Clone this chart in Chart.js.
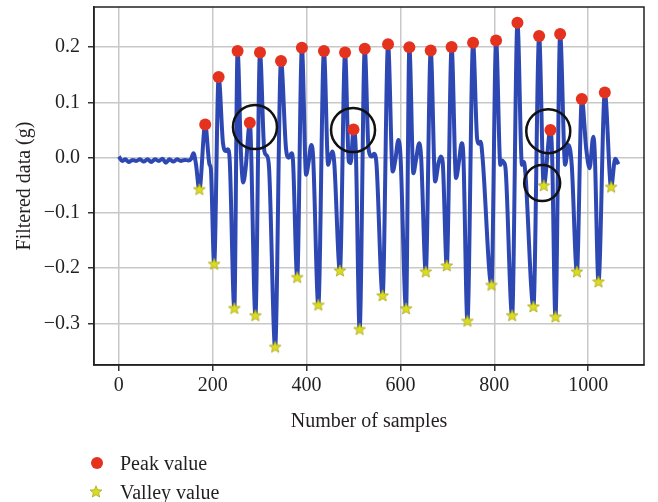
<!DOCTYPE html>
<html>
<head>
<meta charset="utf-8">
<script src="https://cdn.jsdelivr.net/npm/chart.js@4"></script>
<style>
html,body{margin:0;padding:0;background:#fff;}
#wrap{position:relative;width:658px;height:502px;overflow:hidden;}
#chart{position:absolute;left:0;top:0;}
.leg{position:absolute;left:89px;height:24px;line-height:24px;font-family:"Liberation Serif",serif;font-size:20px;color:#231f20;white-space:nowrap;}
.leg .mk{position:absolute;left:0;top:5px;width:14px;height:14px;}
.leg .dot{position:absolute;left:2px;top:6px;width:12px;height:12px;border-radius:50%;background:#e5321f;}
.leg span.t{position:absolute;left:31px;top:0;}
</style>
</head>
<body>
<div id="wrap">
<canvas id="chart" width="658" height="502"></canvas>
<div class="leg" style="top:451px;"><div class="dot"></div><span class="t">Peak value</span></div>
<div class="leg" style="top:480px;"><canvas class="mk" id="legStar" width="14" height="14"></canvas><span class="t">Valley value</span></div>
</div>
<script>
// ---- data ----
const sampleX = [0,7,14,21,29,37,45,53,61,69,77,85,93,100,108,116,124,132,140,148,154,159,164,
  171.5,184,193,196,203,212.6,222,228,232,236,246,253,260,265,270,279,291,300.7,310,315,320,333,345.5,
  356,362,368,371,380,390,399,404,410,414,425,437,446,450,455,459,471,482,490,494,500,505,513,524,
  532,539,544,549,562,573.6,583.5,589,595.6,600,612,619,627.6,633,640,644,654,664.5,674,681,686,690,
  698.7,709,718.5,725,730.6,734,742.7,754.8,763.3,767,771,775,794,803.8,813,817,820,824,838,849.3,
  859,863,866,883.4,895.5,905.4,919.6,923,930.3,940.3,951,958,965,976,986.5,996,1003,1011,1014,1022,
  1035.5,1049,1057.6,1064.7];
const filteredY = [0.002,-0.006,-0.003,-0.008,-0.004,-0.006,-0.003,-0.007,-0.003,-0.008,-0.003,-0.006,-0.002,-0.009,-0.003,-0.007,-0.003,-0.006,-0.004,-0.005,-0.002,0.008,-0.010,
  -0.058,0.060,-0.012,-0.020,-0.193,0.146,0.025,0.012,0.015,-0.002,-0.273,0.193,0.010,-0.045,-0.020,0.063,-0.286,0.190,0.012,0.004,-0.018,-0.343,0.175,
  0.018,0.000,0.008,-0.005,-0.217,0.199,-0.031,-0.010,0.023,0.000,-0.267,0.193,-0.013,0.000,0.011,-0.010,-0.205,0.190,-0.007,-0.010,0.051,0.010,-0.311,0.197,
  0.016,0.002,0.007,-0.012,-0.250,0.205,-0.025,-0.005,0.032,0.005,-0.2735,0.1995,-0.028,-0.005,0.026,0.002,-0.207,0.194,-0.043,-0.010,0.002,-0.008,
  -0.196,0.200,-0.037,-0.005,0.026,0.005,-0.296,0.208,0.035,0.025,0.029,0.000,-0.231,0.212,-0.013,-0.005,-0.008,-0.020,-0.286,0.244,
  -0.013,-0.008,-0.025,-0.270,0.220,-0.051,0.050,0.010,-0.2885,0.2235,-0.013,0.023,-0.013,-0.207,0.106,0.015,-0.019,0.038,0.010,-0.225,
  0.118,-0.0536,-0.002,-0.012];

const peakX = [184,212.6,253,279,300.7,345.5,390,437,482,500,524,573.6,619,664.5,709,754.8,803.8,849.3,895.5,919.6,940.3,986.5,1035.5];
const peakY = [0.060,0.146,0.193,0.063,0.190,0.175,0.199,0.193,0.190,0.051,0.197,0.205,0.1995,0.194,0.200,0.208,0.212,0.244,0.220,0.050,0.2235,0.106,0.118];

const valleyX = [171.5,203,246,291,333,380,425,471,513,562,612,654,698.7,742.7,794,838,883.4,905.4,930.3,976,1022,1049];
const valleyY = [-0.058,-0.193,-0.273,-0.286,-0.343,-0.217,-0.267,-0.205,-0.311,-0.250,-0.2735,-0.207,-0.196,-0.296,-0.231,-0.286,-0.270,-0.051,-0.2885,-0.207,-0.225,-0.0536];

const ringX = [290,499,915,902];
const ringY = [0.0555,0.050,0.048,-0.046];

const xTicks = [0,200,400,600,800,1000];
const yTicks = [-0.3,-0.2,-0.1,0.0,0.1,0.2];

const xTitle = 'Number of samples';
const yTitle = 'Filtered data (g)';

// ---- helpers ----
const zip = (xs, ys) => xs.map((x, i) => ({x: x, y: ys[i]}));

function drawStar(cv) {
  const c = cv.getContext('2d');
  const cx = cv.width / 2, cy = cv.height / 2, R = 6.2, r = 2.7;
  c.clearRect(0, 0, cv.width, cv.height);
  c.beginPath();
  for (let i = 0; i < 10; i++) {
    const a = -Math.PI / 2 + i * Math.PI / 5;
    const rr = i % 2 === 0 ? R : r;
    const px = cx + rr * Math.cos(a), py = cy + rr * Math.sin(a);
    if (i === 0) c.moveTo(px, py); else c.lineTo(px, py);
  }
  c.closePath();
  c.fillStyle = '#dcdc1e';
  c.fill();
  c.lineWidth = 0.8;
  c.strokeStyle = '#a9a61a';
  c.stroke();
}
const starImg = document.createElement('canvas');
starImg.width = 14; starImg.height = 14;
drawStar(starImg);
drawStar(document.getElementById('legStar'));

const FONT = {family: '"Liberation Serif", serif', size: 20};
const TXT = '#231f20';

const frame = {
  id: 'frame',
  afterDraw(chart) {
    const a = chart.chartArea, c = chart.ctx;
    c.save();
    c.strokeStyle = '#222';
    c.lineWidth = 1.5;
    c.strokeRect(a.left, a.top, a.right - a.left, a.bottom - a.top);
    c.restore();
  }
};

new Chart(document.getElementById('chart'), {
  type: 'scatter',
  data: {
    datasets: [
      {
        type: 'line',
        data: zip(sampleX, filteredY),
        borderColor: '#2e48b3',
        borderWidth: 4,
        pointRadius: 0,
        cubicInterpolationMode: 'monotone',
        fill: false,
        order: 3
      },
      {
        data: zip(peakX, peakY),
        pointStyle: 'circle',
        pointRadius: 6,
        backgroundColor: '#e5321f',
        borderColor: '#e5321f',
        borderWidth: 0,
        order: 2
      },
      {
        data: zip(valleyX, valleyY),
        pointStyle: starImg,
        pointRadius: 7,
        order: 1
      },
      {
        data: zip(ringX, ringY),
        pointStyle: 'circle',
        pointRadius: [22, 22, 22, 18],
        backgroundColor: 'rgba(0,0,0,0)',
        borderColor: '#111',
        borderWidth: 2.5,
        order: 0
      }
    ]
  },
  options: {
    responsive: false,
    animation: false,
    devicePixelRatio: 1,
    events: [],
    layout: {autoPadding: false, padding: {left: 0, right: 14, top: 7, bottom: 62}},
    plugins: {legend: {display: false}, tooltip: {enabled: false}},
    scales: {
      x: {
        type: 'linear',
        min: -53, max: 1119,
        afterBuildTicks: s => { s.ticks = xTicks.map(v => ({value: v})); },
        afterFit: s => { s.height = 75; s.paddingLeft = 0; s.paddingRight = 0; },
        ticks: {font: FONT, color: TXT, padding: 3, maxRotation: 0, autoSkip: false,
                callback: v => String(v)},
        grid: {color: '#c8c8c8', lineWidth: 1.5, tickColor: '#333', tickLength: 6, tickWidth: 1.5},
        border: {display: true, color: '#222', width: 1.5},
        title: {display: true, text: xTitle, font: FONT, color: TXT, padding: {top: 4, bottom: 6}}
      },
      y: {
        type: 'linear',
        min: -0.375, max: 0.2725,
        afterBuildTicks: s => { s.ticks = yTicks.map(v => ({value: v})); },
        afterFit: s => { s.width = 94; s.paddingTop = 0; s.paddingBottom = 0; },
        ticks: {font: FONT, color: TXT, padding: 8, autoSkip: false,
                callback: v => (v < -1e-9 ? '\u2212' : '') + Math.abs(v).toFixed(1)},
        grid: {color: '#c8c8c8', lineWidth: 1.5, tickColor: '#333', tickLength: 6, tickWidth: 1.5},
        border: {display: true, color: '#222', width: 1.5},
        title: {display: true, text: yTitle, font: FONT, color: TXT, padding: {top: 13, bottom: 0}}
      }
    }
  },
  plugins: [frame]
});
</script>
</body>
</html>
